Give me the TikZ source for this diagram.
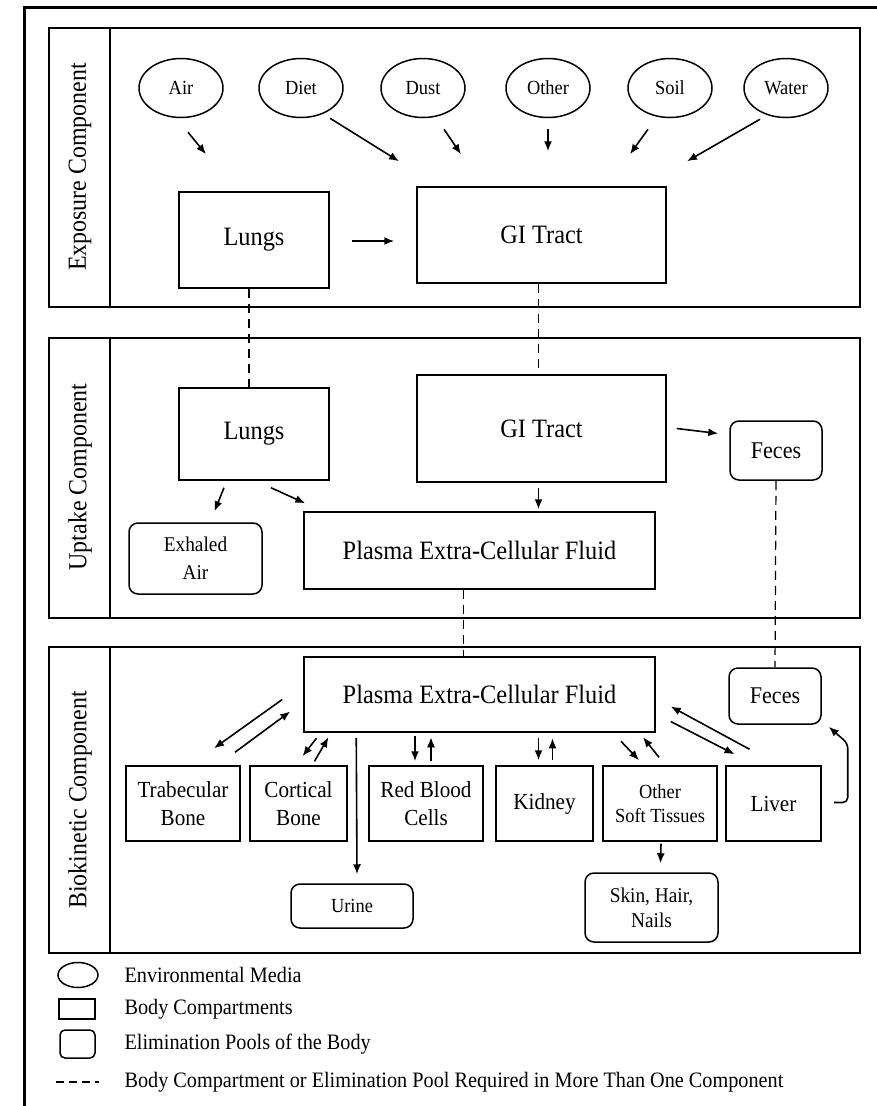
\documentclass[tikz,border=0pt]{standalone}
\usepackage{fontspec}
\setmainfont[FakeStretch=0.92]{Liberation Serif}
\usetikzlibrary{positioning,calc,arrows.meta,shapes.geometric}

\tikzset{
  comp/.style={draw, line width=1.5pt, inner sep=0pt, align=center},
  pool/.style={draw, line width=1.5pt, rounded corners=9pt, inner sep=0pt, align=center},
  media/.style={draw, ellipse, line width=1.5pt, minimum width=84pt, minimum height=59pt, inner sep=0pt},
  panel/.style={draw, line width=1.7pt},
  arr/.style={-{Latex[length=10pt,width=8pt]}, line width=1.6pt},
  link/.style={dash pattern=on 9pt off 6pt, line width=1.2pt},
  big/.style={font=\fontsize{26.5}{28}\selectfont},
  mid/.style={font=\fontsize{23}{28}\selectfont},
  small/.style={font=\fontsize{20}{24}\selectfont},
  plabel/.style={rotate=90, font=\fontsize{26}{28}\selectfont},
  legtext/.style={anchor=west, font=\fontsize{22}{24}\selectfont},
}

\begin{document}
\begin{tikzpicture}[x=1pt, y=-1pt]
    \useasboundingbox (0,0) rectangle (877,1106);
    \draw[line width=3pt] (877,7) -- (24,7) -- (24,1106);

    % panels
    \draw[panel] (49,28) rectangle (860,307);
    \draw[panel] (110,28) -- (110,307);
    \draw[panel] (49,338) rectangle (860,618);
    \draw[panel] (110,338) -- (110,618);
    \draw[panel] (49,647) rectangle (860,953);
    \draw[panel] (110,647) -- (110,953);
    \node[plabel] at (80,167) {Exposure Component};
    \node[plabel] at (80,477) {Uptake Component};
    \node[plabel] at (80,800) {Biokinetic Component};

    % exposure
    \node[media, small] (air) at (181,88) {Air};
    \node[media, small] (diet) at (301,88) {Diet};
    \node[media, small] (dust) at (423,88) {Dust};
    \node[media, small] (other) at (548,88) {Other};
    \node[media, small] (soil) at (670,88) {Soil};
    \node[media, small] (water) at (786,88) {Water};
    \node[comp, big, minimum width=150pt, minimum height=96pt] (lungsE) at (254,240) {Lungs};
    \node[comp, big, minimum width=249pt, minimum height=96pt] (giE) at (541.5,235) {GI Tract};

    \draw[arr] ($(air.south)+(7,14)$) -- ++(18,22);
    \draw[arr] ($(diet.south)+(29,0)$) -- ++(69,43);
    \draw[arr] ($(dust.south)+(21,11)$) -- ++(17,25);
    \draw[arr] ($(other.south)+(0,11)$) -- ++(0,22);
    \draw[arr] ($(soil.south)+(-22,11)$) -- ++(-18,25);
    \draw[arr] ($(water.south)+(-26,1)$) -- ++(-73,42);
    \draw[arr] ($(lungsE.east)+(22,1)$) -- ($(giE.west)+(-22,6)$);

    % uptake
    \node[comp, big, minimum width=150pt, minimum height=92pt] (lungsU) at (254,434) {Lungs};
    \node[comp, big, minimum width=249pt, minimum height=107pt] (giU) at (541.5,428.5) {GI Tract};
    \node[pool, font=\fontsize{24}{26}\selectfont, minimum width=92pt, minimum height=59pt] (fecesU) at (776,450.5) {Feces};
    \node[pool, font=\fontsize{21}{28}\selectfont, minimum width=133pt, minimum height=71pt] (exhaled) at (195.5,558.5) {Exhaled\\Air};
    \node[comp, big, minimum width=351pt, minimum height=77pt] (plasmaU) at (479.5,550.5) {Plasma Extra-Cellular Fluid};

    \draw[arr] ($(lungsU.south)+(-30,7)$) -- ($(exhaled.north)+(19,-11)$);
    \draw[arr] ($(lungsU.south)+(17,7)$) -- ($(plasmaU.north west)+(2,-8)$);
    \draw[arr] ($(giU.south)+(-3,5)$) -- ($(plasmaU.north)+(59,-2)$);
    \draw[arr] ($(giU.east)+(10,0)$) -- ($(fecesU.west)+(-11,-17)$);

    % biokinetic
    \node[comp, big, minimum width=351pt, minimum height=75pt] (plasmaB) at (479.5,694.5) {Plasma Extra-Cellular Fluid};
    \node[pool, font=\fontsize{24}{26}\selectfont, minimum width=92pt, minimum height=56pt] (fecesB) at (775,696) {Feces};
    \node[comp, mid, minimum width=114pt, minimum height=75pt] (trab) at (183,803.5) {Trabecular\\Bone};
    \node[comp, mid, minimum width=97pt, minimum height=75pt] (cort) at (298.5,803.5) {Cortical\\Bone};
    \node[comp, mid, minimum width=114pt, minimum height=75pt] (rbc) at (426,803.5) {Red Blood\\Cells};
    \node[comp, mid, minimum width=97pt, minimum height=75pt] (kidney) at (544.5,803.5) {Kidney};
    \node[comp, small, minimum width=114pt, minimum height=75pt] (soft) at (660,803.5) {Other\\Soft Tissues};
    \node[comp, mid, minimum width=95pt, minimum height=75pt] (liver) at (773.5,803.5) {Liver};
    \node[pool, small, minimum width=122pt, minimum height=44pt] (urine) at (352,906) {Urine};
    \node[pool, font=\fontsize{21}{25}\selectfont, minimum width=133pt, minimum height=69pt] (skin) at (651.5,907.5) {Skin, Hair,\\Nails};

    \draw[arr] ($(plasmaB.west)+(-21,5)$) -- ($(trab.north)+(31,-17)$);
    \draw[arr] ($(trab.north)+(52,-13)$) -- ($(plasmaB.west)+(-13,17)$);
    \draw[arr] ($(cort.north)+(18,-27)$) -- ++(-14,18);
    \draw[arr] ($(cort.north)+(16,-4)$) -- ++(14,-24);
    \draw[arr] ($(plasmaB.south west)+(53,5)$) -- ($(urine.north)+(5,-9)$);
    \draw[arr] ($(rbc.north)+(-11,-29)$) -- ++(0,25);
    \draw[arr] ($(rbc.north)+(5,-4)$) -- ++(0,-24);
    \draw[arr] ($(kidney.north)+(-6,-27)$) -- ++(0,22);
    \draw[arr] ($(kidney.north)+(8,-5)$) -- ++(0,-22);
    \draw[arr] ($(soft.north)+(-39,-24)$) -- ++(18,19);
    \draw[arr] ($(soft.north)+(-1,-8)$) -- ++(-16,-20);
    \draw[arr] ($(liver.north)+(-24,-16)$) -- ($(plasmaB.east)+(15,12)$);
    \draw[arr] ($(plasmaB.east)+(15,27)$) -- ($(liver.north)+(-39,-11)$);
    \draw[arr] ($(soft.south)+(1,2)$) -- ($(skin.north)+(9,-9)$);
    \draw[arr, rounded corners=5pt] ($(liver.east)+(12,-1)$) -- ++(14,0) -- ++(0,-59) -- ($(fecesB.south east)+(7,2)$);

    % links between components
    \draw[link] ($(lungsE.south)+(-5,0)$) -- ($(lungsU.north)+(-5,0)$);
    \draw[link] ($(giE.south)+(-3,0)$) -- ($(giU.north)+(-3,0)$);
    \draw[link] ($(plasmaU.south)+(-16,0)$) -- ($(plasmaB.north)+(-16,0)$);
    \draw[link] (fecesU.south) -- (fecesB.north);

    % legend
    \node[draw, ellipse, line width=1.5pt, minimum width=40pt, minimum height=25pt] (legmedia) at (78,975) {};
    \node[draw, line width=1.5pt, minimum width=36pt, minimum height=20pt] (legcomp) at (77,1009) {};
    \node[draw, line width=1.5pt, rounded corners=5pt, minimum width=35pt, minimum height=28pt] (legpool) at (77.5,1044) {};
    \coordinate (legdash) at (56,1082);
    \draw[link, dash pattern=on 8pt off 5pt] (legdash) -- ++(43,0);
    \node[legtext] at (121,975) {Environmental Media};
    \node[legtext] at (121,1009) {Body Compartments};
    \node[legtext] at (121,1044) {Elimination Pools of the Body};
    \node[legtext] at (121,1082) {Body Compartment or Elimination Pool Required in More Than One Component};
\end{tikzpicture}
\end{document}
